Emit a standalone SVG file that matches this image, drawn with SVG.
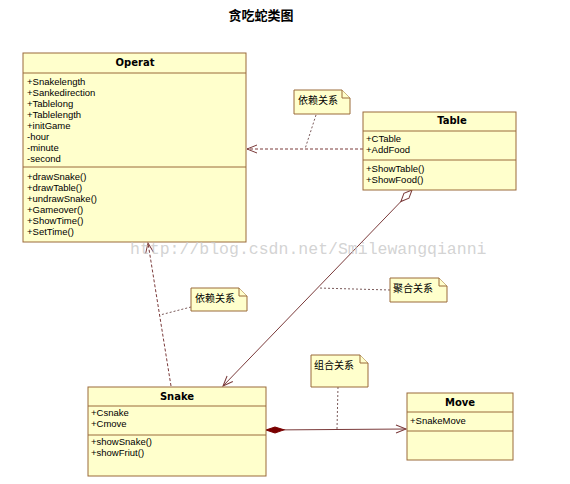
<svg xmlns="http://www.w3.org/2000/svg" width="570" height="484" viewBox="0 0 570 484">
<style>
.box{fill:#ffffcc;stroke:#9a6a3a;stroke-width:1}
.sep{stroke:#9a6a3a;stroke-width:1}
.t{font-family:"Liberation Sans",Arial,sans-serif;font-size:9.5px;fill:#000}
.h{font-family:"DejaVu Sans","Liberation Sans",sans-serif;font-size:10px;font-weight:bold;fill:#000;text-anchor:middle}
.n{font-family:"Liberation Sans","Noto Sans CJK SC",sans-serif;font-size:10px;fill:#000}
.note{fill:#ffffcc;stroke:#9a6a3a;stroke-width:1}
.dep{fill:none;stroke:#7a3a3a;stroke-width:1;stroke-dasharray:3,2}
.dot{fill:none;stroke:#7a5a5a;stroke-width:1;stroke-dasharray:2,2}
.solid{fill:none;stroke:#7a3a3a;stroke-width:1}
</style>
<defs>
<marker id="open" markerUnits="userSpaceOnUse" markerWidth="12" markerHeight="10" refX="10" refY="4" orient="auto" overflow="visible">
<path d="M0,0 L10,4 L0,8" fill="none" stroke="#7a3a3a" stroke-width="1"/>
</marker>
<marker id="hdia" markerUnits="userSpaceOnUse" markerWidth="18" markerHeight="10" refX="0" refY="4" orient="auto" overflow="visible">
<path d="M0,4 L8,0.5 L16,4 L8,7.5 Z" fill="#fff" stroke="#7a3a3a" stroke-width="1"/>
</marker>
<marker id="fdia" markerUnits="userSpaceOnUse" markerWidth="20" markerHeight="10" refX="0" refY="4" orient="auto" overflow="visible">
<path d="M0,4 L9,1 L18,4 L9,7 Z" fill="#7a0000" stroke="#7a0000" stroke-width="1"/>
</marker>
</defs>
<rect width="570" height="484" fill="#fff"/>
<text x="261" y="20" font-family="'Noto Sans CJK SC',sans-serif" font-size="13" font-weight="bold" text-anchor="middle">贪吃蛇类图</text>

<g id="connectors">
<line class="dep" x1="363" y1="149" x2="247" y2="149" marker-end="url(#open)"/>
<line class="dep" x1="171" y1="386" x2="148" y2="243" marker-end="url(#open)"/>
<line class="solid" x1="412" y1="190" x2="223" y2="386" marker-start="url(#hdia)" marker-end="url(#open)"/>
<line class="solid" x1="266" y1="430" x2="406" y2="429" marker-start="url(#fdia)" marker-end="url(#open)"/>
<line class="dot" x1="316" y1="115" x2="305" y2="149"/>
<line class="dot" x1="191" y1="307" x2="160" y2="315"/>
<line class="dot" x1="390" y1="290" x2="318" y2="288"/>
<line class="dot" x1="338" y1="387" x2="337" y2="429"/>
</g>

<g id="operat">
<rect class="box" x="23" y="53" width="223" height="189"/>
<line class="sep" x1="23" y1="73" x2="246" y2="73"/>
<line class="sep" x1="23" y1="167" x2="246" y2="167"/>
<text class="h" x="135" y="66">Operat</text>
<text class="t" x="27" y="85">+Snakelength</text>
<text class="t" x="27" y="96">+Sankedirection</text>
<text class="t" x="27" y="107">+Tablelong</text>
<text class="t" x="27" y="118">+Tablelength</text>
<text class="t" x="27" y="129">+initGame</text>
<text class="t" x="27" y="140">-hour</text>
<text class="t" x="27" y="151">-minute</text>
<text class="t" x="27" y="162">-second</text>
<text class="t" x="27" y="180">+drawSnake()</text>
<text class="t" x="27" y="191">+drawTable()</text>
<text class="t" x="27" y="202">+undrawSnake()</text>
<text class="t" x="27" y="213">+Gameover()</text>
<text class="t" x="27" y="224">+ShowTime()</text>
<text class="t" x="27" y="235">+SetTime()</text>
</g>

<g id="table">
<rect class="box" x="363" y="112" width="153" height="78"/>
<line class="sep" x1="363" y1="131" x2="516" y2="131"/>
<line class="sep" x1="363" y1="160" x2="516" y2="160"/>
<text class="h" x="452" y="124">Table</text>
<text class="t" x="366" y="142">+CTable</text>
<text class="t" x="366" y="153">+AddFood</text>
<text class="t" x="366" y="172">+ShowTable()</text>
<text class="t" x="366" y="183">+ShowFood()</text>
</g>

<g id="snake">
<rect class="box" x="88" y="387" width="178" height="89"/>
<line class="sep" x1="88" y1="406" x2="266" y2="406"/>
<line class="sep" x1="88" y1="435" x2="266" y2="435"/>
<text class="h" x="177" y="400">Snake</text>
<text class="t" x="91" y="416">+Csnake</text>
<text class="t" x="91" y="427">+Cmove</text>
<text class="t" x="91" y="445">+showSnake()</text>
<text class="t" x="91" y="456">+showFriut()</text>
</g>

<g id="move">
<rect class="box" x="407" y="393" width="106" height="67"/>
<line class="sep" x1="407" y1="412" x2="513" y2="412"/>
<line class="sep" x1="407" y1="431" x2="513" y2="431"/>
<text class="h" x="460" y="406">Move</text>
<text class="t" x="410" y="424">+SnakeMove</text>
</g>

<g id="note1">
<path class="note" d="M294,90 H342 L350,98 V114 H294 Z"/>
<path class="note" d="M342,90 V98 H350" fill="none"/>
<text class="n" x="298" y="104">依赖关系</text>
</g>
<g id="note2">
<path class="note" d="M191,288 H239 L247,296 V311 H191 Z"/>
<path class="note" d="M239,288 V296 H247" fill="none"/>
<text class="n" x="195" y="302">依赖关系</text>
</g>
<g id="note3">
<path class="note" d="M390,278 H439 L447,286 V302 H390 Z"/>
<path class="note" d="M439,278 V286 H447" fill="none"/>
<text class="n" x="393" y="292">聚合关系</text>
</g>
<g id="note4">
<path class="note" d="M311,355 H360 L368,363 V387 H311 Z"/>
<path class="note" d="M360,355 V363 H368" fill="none"/>
<text class="n" x="314" y="369">组合关系</text>
</g>

<text x="130" y="254" font-family="'Liberation Mono',monospace" font-size="16.5" fill="#c8c8c8" fill-opacity="0.8">http://blog.csdn.net/Smilewangqianni</text>
</svg>
